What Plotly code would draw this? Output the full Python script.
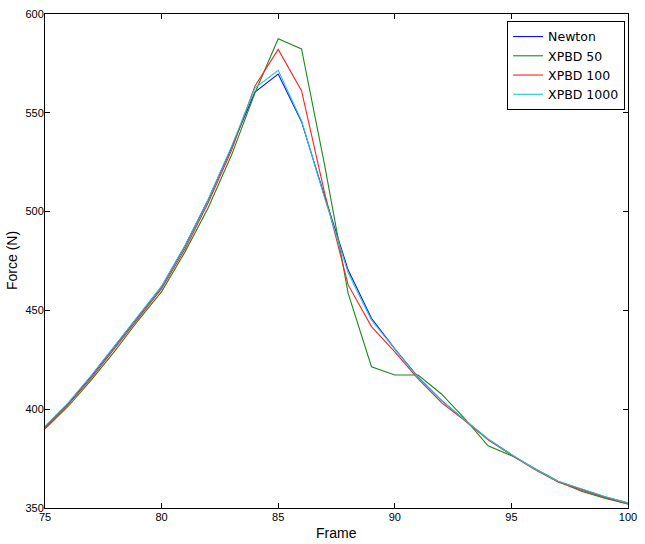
import plotly.graph_objects as go

frames = list(range(75, 101))

newton = [391, 403, 417, 432, 447.5, 462, 482.5, 506, 532.5, 560.5, 569.6, 545.5, 507.4, 470.4,
          446, 430.5, 416.2, 404.5, 394.5, 384.8, 377, 369.8, 363.4, 359.4, 355.7, 352.5]
xpbd50 = [390, 401.5, 415, 429.5, 445, 459.5, 479.5, 502, 528.6, 560, 587.5, 582.3, 523, 458.6,
          421.5, 417.3, 417.3, 407.7, 395.2, 381.5, 376.5, 370, 363.5, 358.5, 355, 352]
xpbd100 = [390.5, 402.5, 416, 431, 446.5, 461, 481, 504.5, 531, 563.5, 582.1, 561.2, 509, 462.9,
           441.8, 429, 415.4, 403.3, 394.3, 384.5, 376.8, 369.5, 363.1, 359, 355.3, 352]
xpbd1000 = [391.3, 403.3, 417.3, 432.3, 447.8, 462.3, 482.8, 506.3, 533, 562.5, 571.5, 546, 506.5, 469,
            445, 430.3, 416, 404.3, 394.6, 384.9, 377.1, 369.9, 363.5, 359.5, 355.8, 352.6]

series = [
    ("Newton", newton, "#1010ff"),
    ("XPBD 50", xpbd50, "#1a8a1a"),
    ("XPBD 100", xpbd100, "#ff2020"),
    ("XPBD 1000", xpbd1000, "#20c8c8"),
]

fig = go.Figure()
for name, vals, col in series:
    fig.add_trace(go.Scatter(x=frames, y=vals, mode="lines", name=name,
                             line=dict(color=col, width=1.1)))

axis_common = dict(
    showline=True, linecolor="black", linewidth=1, mirror="ticks",
    ticks="inside", ticklen=5, tickcolor="black", tickwidth=1,
    showgrid=False, zeroline=False, automargin=False,
    tickfont=dict(family="Liberation Sans, Arial", size=11, color="black"),
)

fig.update_xaxes(range=[75, 100], tickvals=[75, 80, 85, 90, 95, 100],
                 ticklabelstandoff=-1, **axis_common)
fig.update_yaxes(range=[350, 600], tickvals=[350, 400, 450, 500, 550, 600],
                 ticklabelstandoff=-2, **axis_common)

title_font = dict(family="Liberation Sans, Arial", size=14, color="black")
fig.add_annotation(text="Frame", x=0.5, xref="paper", y=0, yref="paper",
                   xanchor="center", yanchor="middle", yshift=-25,
                   showarrow=False, font=title_font)
fig.add_annotation(text="Force (N)", x=0, xref="paper", y=0.5, yref="paper",
                   xanchor="center", yanchor="middle", xshift=-33, textangle=-90,
                   showarrow=False, font=title_font)

fig.update_layout(
    width=645, height=544,
    margin=dict(l=45, r=17, t=14, b=36),
    plot_bgcolor="white", paper_bgcolor="white",
    legend=dict(x=0.995, y=0.986, xanchor="right", yanchor="top",
                bordercolor="black", borderwidth=1, bgcolor="white",
                font=dict(family="DejaVu Sans", size=12.5, color="black"),
                tracegroupgap=0),
)

fig.write_html("out.html", config={"displayModeBar": False},
               post_script="document.body.style.margin='0';")
